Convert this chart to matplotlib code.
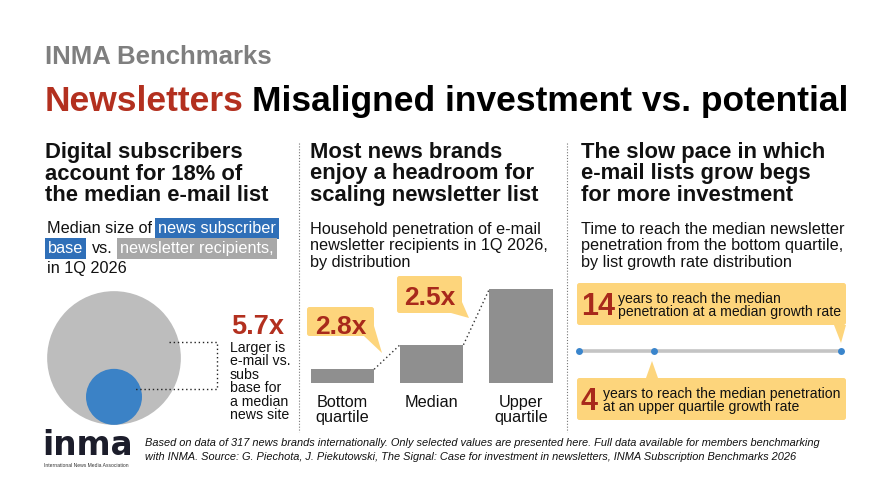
import matplotlib
matplotlib.use('Agg')
import matplotlib.pyplot as plt
from matplotlib.patches import Circle, FancyBboxPatch, Polygon
import numpy as np

W, H, DPI = 887, 499, 100

# ---------------- data ----------------
circle_labels = ['news subscriber base', 'newsletter recipients']
circle_values = [1.0, 5.7]          # relative size, subscriber base = 1
ratio_label = '5.7x'

bar_categories = ['Bottom\nquartile', 'Median', 'Upper\nquartile']
bar_values = [1.4, 3.9, 9.6]        # household penetration of newsletter recipients, %
bar_ratio_labels = ['2.8x', '2.5x']

timeline_years = [0, 4, 14]         # years to reach median penetration
timeline_labels = ['14', '4']

# ---------------- style ----------------
FONT = 'Liberation Sans'
RED = '#b3301f'
DARKRED = '#a8291b'
YELLOW = '#fdd57c'
BLUE = '#3b82c6'
HBLUE = '#2f6fb8'
HGRAY = '#a8a8a8'
CGRAY = '#bdbdbd'
BARGRAY = '#8f8f8f'
TXT = '#111111'

plt.rcParams['font.family'] = [FONT, 'DejaVu Sans']

fig = plt.figure(figsize=(W / DPI, H / DPI), dpi=DPI)
fig.patch.set_facecolor('white')
ax = fig.add_axes([0, 0, 1, 1])
ax.set_xlim(0, W)
ax.set_ylim(H, 0)
ax.axis('off')


def T(x, y, s, size, weight='normal', color=TXT, ha='left', style='normal', **kw):
    return ax.text(x, y, s, fontsize=size, fontweight=weight, color=color, ha=ha,
                   va='baseline', style=style, **kw)


def lines(x, y0, dy, rows, size, weight='normal', color=TXT, ha='left', style='normal'):
    for i, r in enumerate(rows):
        T(x, y0 + i * dy, r, size, weight, color, ha, style)


fig.canvas.draw()
renderer = fig.canvas.get_renderer()


def width_of(t):
    return t.get_window_extent(renderer=renderer).width

# ---------------- header ----------------
T(45, 64, 'INMA Benchmarks', 18.5, 'bold', '#7f7f7f')
t1 = T(45, 111, 'Newsletters', 25.5, 'bold', RED)
T(45 + width_of(t1) + 8, 111, 'Misaligned investment vs. potential', 25.5, 'bold', '#000000')

# separators
for sx in (299, 567):
    ax.plot([sx, sx], [143, 432], color='#777777', lw=0.8, ls=(0, (1, 1.6)))

HEAD = 15.8
SUB = 11.7
# ---------------- column 1 ----------------
lines(45, 158, 21.5, ['Digital subscribers', 'account for 18% of', 'the median e-mail list'], HEAD, 'bold')
T(47, 233, 'Median size of', SUB)
T(158, 233, 'news subscriber', SUB, color='white',
  bbox=dict(boxstyle='square,pad=0.18', fc=HBLUE, ec='none'))
T(48, 253, 'base', SUB, color='white',
  bbox=dict(boxstyle='square,pad=0.18', fc=HBLUE, ec='none'))
T(92, 253, 'vs.', SUB)
T(120, 253, 'newsletter recipients,', SUB, color='white',
  bbox=dict(boxstyle='square,pad=0.18', fc=HGRAY, ec='none'))
T(47, 273, 'in 1Q 2026', SUB)

k = 28.0
cx, cy_big = 114, 358
r_big = k * np.sqrt(circle_values[1])
r_small = k * np.sqrt(circle_values[0])
ax.add_patch(Circle((cx, cy_big), r_big, fc=CGRAY, ec='none'))
ax.add_patch(Circle((cx, cy_big + r_big - r_small), r_small, fc=BLUE, ec='none'))

ax.plot([169, 217, 217, 134], [341.5, 341.5, 389, 389], color='#222222', lw=1.0,
        ls=(0, (1, 2)))
T(231, 334, ratio_label, 19.5, 'bold', RED)
lines(230, 352, 13.4, ['Larger is', 'e-mail vs.', 'subs', 'base for', 'a median', 'news site'], 10.2)

# ---------------- column 2 ----------------
lines(310, 158, 21.5, ['Most news brands', 'enjoy a headroom for', 'scaling newsletter list'], HEAD, 'bold')
lines(310, 234, 16.3, ['Household penetration of e-mail',
                       'newsletter recipients in 1Q 2026,', 'by distribution'], SUB)

bx0, bx1, by0, by1 = 297.75, 565.75, 283, 383
bax = fig.add_axes([bx0 / W, 1 - by1 / H, (bx1 - bx0) / W, (by1 - by0) / H])
bax.set_xlim(-0.5, 2.5)
bax.set_ylim(0, 10.21)
bax.axis('off')
bw = 0.71
xs = np.arange(len(bar_values))
bax.bar(xs, bar_values, width=bw, color=BARGRAY, edgecolor='none')
for i in range(len(bar_values) - 1):
    bax.plot([xs[i] + bw / 2, xs[i + 1] - bw / 2], [bar_values[i], bar_values[i + 1]],
             color='#333333', lw=1.0, ls=(0, (1, 2)), clip_on=False)
for i, c in enumerate(bar_categories):
    px = bx0 + (xs[i] + 0.5) / 3 * (bx1 - bx0)
    lines(px, 407, 14.8, c.split('\n'), SUB, ha='center')


def callout(x0, y0, x1, y1, tail):
    ax.add_patch(FancyBboxPatch((x0, y0), x1 - x0, y1 - y0,
                                boxstyle='round,pad=0,rounding_size=2.5', fc=YELLOW, ec='none'))
    ax.add_patch(Polygon(tail, closed=True, fc=YELLOW, ec='none'))

callout(307, 307, 374, 336, [(364, 336), (374, 326), (382, 353)])
T(340.5, 334, bar_ratio_labels[0], 19, 'bold', DARKRED, ha='center')
callout(397, 276, 462, 313, [(451, 313), (462, 302), (469, 318)])
T(429.5, 305, bar_ratio_labels[1], 19, 'bold', DARKRED, ha='center')

# ---------------- column 3 ----------------
lines(581, 158, 21.5, ['The slow pace in which', 'e-mail lists grow begs', 'for more investment'], HEAD, 'bold')
lines(581, 234, 16.3, ['Time to reach the median newsletter',
                       'penetration from the bottom quartile,', 'by list growth rate distribution'], SUB)

callout(577, 283, 846, 325, [(834, 325), (846, 325), (841, 343)])
callout(577, 378, 846, 420, [(646, 378), (658, 378), (652, 361)])

T(581, 315, timeline_labels[0], 22, 'bold', DARKRED)
lines(618, 303, 12.6, ['years to reach the median',
                       'penetration at a median growth rate'], 10.1)
T(581, 410, timeline_labels[1], 22, 'bold', DARKRED)
lines(603, 398, 12.6, ['years to reach the median penetration',
                       'at an upper quartile growth rate'], 10.1)

tx0, tx1, ty = 579, 841, 351
tax = fig.add_axes([tx0 / W, 1 - (ty + 10) / H, (tx1 - tx0) / W, 20 / H])
tax.set_xlim(timeline_years[0], timeline_years[-1])
tax.set_ylim(-1, 1)
tax.axis('off')
tax.plot([timeline_years[0], timeline_years[-1]], [0, 0], color='#c4c4c4', lw=2.6,
         solid_capstyle='butt', zorder=1)
tax.plot(timeline_years, [0] * len(timeline_years), 'o', color='#3a85cc', ms=5,
         mec='none', clip_on=False, zorder=2)

# ---------------- footer ----------------
ax.text(42, 455, 'inma', fontsize=23.5, fontweight='heavy', color='#1c1d2b',
        family='DejaVu Sans', va='baseline')
T(44, 467, 'International News Media Association', 3.6, 'normal', '#333333')
lines(145, 446, 13.5, ['Based on data of 317 news brands internationally. Only selected values are presented here. '
                       'Full data available for members benchmarking',
                       'with INMA. Source: G. Piechota, J. Piekutowski, The Signal: Case for investment in '
                       'newsletters, INMA Subscription Benchmarks 2026'], 7.9, style='italic')

fig.savefig('out.png', dpi=DPI, facecolor='white')
